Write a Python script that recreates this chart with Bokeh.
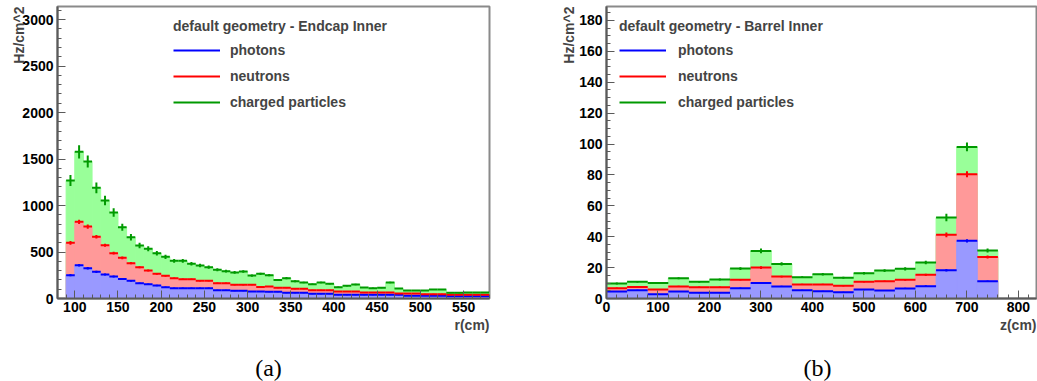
import numpy as np
from bokeh.plotting import figure
from bokeh.layouts import row, column
from bokeh.models import Range1d, SingleIntervalTicker, Legend, LegendItem, Title, Label
from bokeh.embed import file_html
from bokeh.resources import INLINE

# ---------------- data: panel (a) Endcap Inner, bins of 10 cm in r ----------------
r_edges = list(range(90, 590, 10))
r_photons = [251, 358, 326, 287, 258, 237, 211, 190, 165, 154, 140, 122, 111, 111, 111,
             111, 111, 90, 90, 82, 82, 75, 75, 72, 72, 61, 61, 61, 50, 50,
             50, 39, 39, 39, 39, 39, 39, 39, 39, 29, 29, 29, 29, 29, 25,
             25, 25, 25, 25]
r_neutrons = [348, 466, 448, 376, 315, 250, 226, 190, 172, 147, 125, 122, 108, 97, 97,
              79, 79, 75, 75, 65, 65, 72, 50, 57, 43, 54, 43, 43, 40, 40,
              40, 36, 36, 36, 26, 26, 26, 26, 15, 25, 25, 18, 18, 18, 14,
              14, 14, 14, 14]
r_charged = [670, 753, 699, 527, 481, 438, 330, 279, 233, 233, 222, 204, 186, 197, 165,
             165, 147, 143, 129, 133, 143, 100, 140, 122, 85, 104, 82, 68, 64, 82,
             68, 47, 61, 76, 53, 46, 50, 107, 54, 32, 32, 39, 50, 50, 22,
             22, 26, 26, 26]
r_err_photons = [12, 14, 13, 12, 11, 10, 9, 9, 8, 8, 7, 7, 6, 6, 6, 6, 6, 5, 5, 5,
                 5, 5, 5, 5, 5, 4, 4, 4, 4, 4, 4, 4, 4, 4, 4, 4, 4, 4, 4, 3,
                 3, 3, 3, 3, 3, 3, 3, 3, 3]
r_err_neutrons = [20, 24, 23, 19, 17, 15, 14, 12, 11, 10, 9, 9, 8, 8, 7, 7, 6, 6, 6, 6,
                  6, 5, 5, 5, 5, 5, 5, 5, 4, 4, 4, 4, 4, 4, 4, 4, 4, 4, 3, 3,
                  3, 3, 3, 3, 3, 3, 3, 3, 3]
r_err_charged = [60, 72, 65, 58, 52, 45, 38, 34, 30, 27, 25, 22, 20, 20, 19, 18, 17, 16, 15, 15,
                 14, 12, 13, 12, 10, 11, 10, 9, 8, 9, 8, 7, 7, 8, 6, 6, 6, 9, 6, 5,
                 5, 5, 5, 5, 4, 4, 4, 4, 4]

# ---------------- data: panel (b) Barrel Inner, bins of 40 cm in z ----------------
z_edges = list(range(0, 800, 40))
z_photons = [4.5, 5.4, 2.8, 4.5, 3.7, 3.7, 6.7, 10.1, 7.8, 5.4, 4.7, 4.1, 5.8, 5.2, 6.5,
             8.0, 18.3, 37.3, 11.2]
z_neutrons = [2.2, 2.1, 3.0, 3.3, 3.6, 3.6, 5.4, 9.9, 6.4, 3.7, 4.4, 4.1, 5.0, 6.0, 5.6,
              7.3, 22.9, 43.1, 15.7]
z_charged = [3.0, 3.3, 4.3, 5.3, 3.5, 5.0, 7.3, 10.8, 8.2, 4.7, 6.6, 5.2, 5.6, 6.9, 7.1,
             8.0, 11.2, 17.7, 4.1]
z_err_photons = [0.3, 0.3, 0.2, 0.3, 0.3, 0.3, 0.4, 0.6, 0.4, 0.3, 0.3, 0.3, 0.4, 0.3, 0.4,
                 0.5, 0.8, 1.0, 0.5]
z_err_neutrons = [0.4, 0.4, 0.3, 0.4, 0.4, 0.4, 0.5, 0.9, 0.6, 0.4, 0.4, 0.4, 0.5, 0.5, 0.6,
                  0.7, 1.5, 1.9, 1.0]
z_err_charged = [0.6, 0.6, 0.6, 0.7, 0.6, 0.6, 0.9, 1.5, 1.0, 0.6, 0.8, 0.6, 0.8, 0.9, 1.0,
                 1.2, 2.4, 2.8, 1.3]

series_names = ["photons", "neutrons", "charged particles"]
captions = ["(a)", "(b)"]

FILL = ["#9999ff", "#ff9999", "#99ff99"]
LINE = ["#0000ff", "#ff0000", "#009900"]
FONT = "Liberation Sans"
TOTAL_W = 1037
H = 350
CAP_H = 31
TOP = 6
FRAME_H = 292


def panel(edges, layers, errs, xr, yr, x_int, x_minor, y_int, y_minor,
          width, b_left, b_right, header, xtitle, leg_x, leg_y, leg_standoff,
          ytitle_standoff):
    p = figure(width=width, height=H, x_range=Range1d(*xr), y_range=Range1d(*yr),
               output_backend="svg", toolbar_location=None,
               min_border_left=b_left, min_border_right=b_right,
               min_border_top=TOP, min_border_bottom=H - TOP - FRAME_H)
    p.xgrid.visible = False
    p.ygrid.visible = False
    p.background_fill_color = "white"
    p.border_fill_color = "white"
    p.outline_line_color = "#8a8a8a"
    p.outline_line_width = 2

    left = np.array(edges[:-1], dtype=float)
    right = np.array(edges[1:], dtype=float)
    centre = (left + right) / 2
    tops = np.cumsum(np.array(layers, dtype=float), axis=0)
    errs = np.array(errs, dtype=float)

    for k in reversed(range(3)):
        p.quad(left=left, right=right, bottom=0, top=tops[k],
               fill_color=FILL[k], line_color=FILL[k], line_width=1)
    rends = []
    for k in range(3):
        rr = p.segment(x0=left, x1=right, y0=tops[k], y1=tops[k],
                       line_color=LINE[k], line_width=2)
        p.segment(x0=centre, x1=centre, y0=tops[k] - errs[k], y1=tops[k] + errs[k],
                  line_color=LINE[k], line_width=2)
        rends.append(rr)

    p.xaxis.ticker = SingleIntervalTicker(interval=x_int, num_minor_ticks=x_minor)
    p.yaxis.ticker = SingleIntervalTicker(interval=y_int, num_minor_ticks=y_minor)
    for ax in (p.xaxis[0], p.yaxis[0]):
        ax.major_tick_in = 8
        ax.major_tick_out = 0
        ax.minor_tick_in = 4
        ax.minor_tick_out = 0
        ax.axis_line_color = "#5a5a5a"
        ax.axis_line_width = 2
        ax.major_tick_line_color = "#5a5a5a"
        ax.minor_tick_line_color = "#5a5a5a"
        ax.major_label_text_font = FONT
        ax.major_label_text_font_style = "bold"
        ax.major_label_text_font_size = "14px"
        ax.major_label_text_color = "black"
    p.xaxis.major_label_standoff = 3
    p.yaxis.major_label_standoff = 4

    legend = Legend(items=[LegendItem(label=series_names[k], renderers=[rends[k]]) for k in range(3)],
                    location=(leg_x, leg_y), title=header)
    legend.title_text_font = FONT
    legend.title_text_font_style = "bold"
    legend.title_text_font_size = "14px"
    legend.title_standoff = 6
    legend.label_text_font = FONT
    legend.label_text_font_style = "bold"
    legend.label_text_font_size = "14px"
    legend.glyph_width = 47
    legend.glyph_height = 20
    legend.label_height = 20
    legend.label_standoff = leg_standoff
    legend.spacing = 6
    legend.padding = 0
    legend.margin = 0
    legend.border_line_color = None
    legend.background_fill_alpha = 0
    p.add_layout(legend)

    p.add_layout(Title(text="Hz/cm^2", align="right", standoff=ytitle_standoff,
                       text_font=FONT, text_font_style="bold", text_font_size="14px"), "left")
    p.add_layout(Title(text=xtitle, align="right", standoff=0,
                       text_font=FONT, text_font_style="bold", text_font_size="14px"), "below")
    return p


W_A = 545
pa = panel(r_edges, [r_photons, r_neutrons, r_charged],
           [r_err_photons, r_err_neutrons, r_err_charged],
           (80, 580), (0, 3140), 50, 5, 500, 5,
           W_A, 57, 56, "default geometry - Endcap Inner", "r(cm)", 116, 186, 10, -14)
pb = panel(z_edges, [z_photons, z_neutrons, z_charged],
           [z_err_photons, z_err_neutrons, z_err_charged],
           (0, 835), (0, 189), 100, 5, 20, 4,
           TOTAL_W - W_A, 606 - W_A, 1, "default geometry - Barrel Inner", "z(cm)", 13, 186, 12, 0)

# caption strip under the two panels
cap = figure(width=TOTAL_W, height=CAP_H, x_range=Range1d(0, TOTAL_W), y_range=Range1d(0, CAP_H),
             output_backend="svg", toolbar_location=None, min_border=0)
cap.axis.visible = False
cap.grid.visible = False
cap.outline_line_color = None
cap.background_fill_color = "white"
cap.border_fill_color = "white"
for cx, txt in zip([268, 817], captions):
    cap.add_layout(Label(x=cx, y=14, text=txt, text_align="center", text_baseline="middle",
                         text_font="Liberation Serif", text_font_size="24px", text_color="black"))

layout = column(row(pa, pb), cap)
open("out.html", "w").write(file_html(layout, INLINE))
